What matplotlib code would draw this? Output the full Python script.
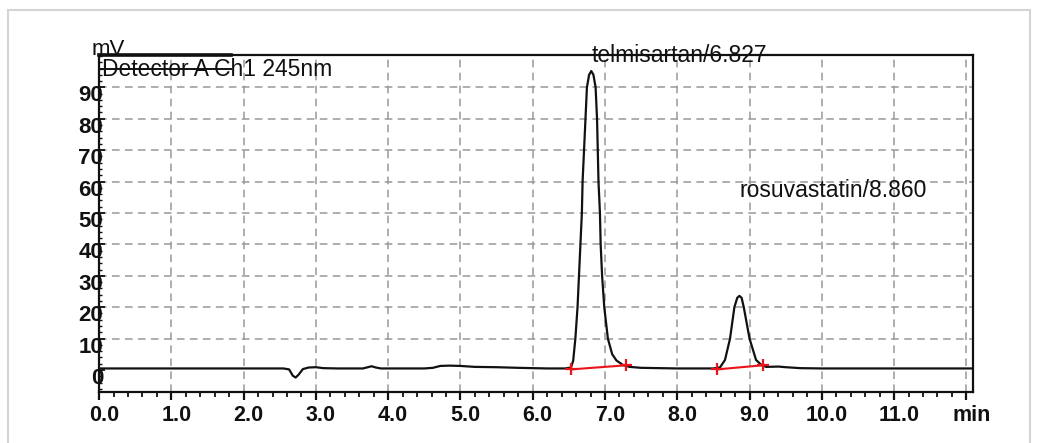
import matplotlib
matplotlib.use("Agg")
import matplotlib.pyplot as plt
import matplotlib.transforms as mtransforms
from matplotlib.patches import Rectangle
from matplotlib.ticker import MultipleLocator

plt.rcParams['font.family'] = ['Liberation Sans', 'DejaVu Sans']

# --- Chromatogram trace (time in min, signal in mV) ---
time_min = [0.0, 1.0, 2.0, 2.55, 2.63, 2.68, 2.72, 2.76, 2.82, 2.9, 3.0, 3.1,
            3.3, 3.65, 3.72, 3.77, 3.83, 3.9, 4.5, 4.62, 4.72, 4.85, 5.0,
            5.2, 5.5, 5.8, 6.2, 6.45, 6.53, 6.56, 6.59, 6.62, 6.64, 6.66,
            6.68, 6.69, 6.71, 6.73, 6.75, 6.78, 6.81, 6.84, 6.87, 6.89,
            6.90, 6.91, 6.93, 6.94, 6.96, 6.99, 7.04, 7.10, 7.16, 7.25,
            7.34, 7.5, 8.0, 8.5, 8.59, 8.66, 8.73, 8.79, 8.83, 8.86, 8.89,
            8.92, 9.00, 9.09, 9.17, 9.23, 9.4, 9.5, 9.7, 10.0, 12.09]
signal_mv = [0.5, 0.5, 0.5, 0.5, 0.2, -1.8, -2.4, -1.5, 0.3, 0.8, 0.9, 0.6,
             0.5, 0.5, 0.9, 1.2, 0.8, 0.5, 0.5, 0.7, 1.3, 1.4, 1.3,
             1.0, 0.9, 0.7, 0.5, 0.5, 0.8, 3.0, 10, 20, 30, 40,
             50, 60, 70, 80, 90, 94, 95.2, 94, 90, 80,
             70, 60, 50, 40, 30, 20, 10, 5, 3, 1.6,
             1.0, 0.7, 0.5, 0.5, 0.8, 3.2, 10, 20, 23, 23.6, 23,
             20, 10, 3.2, 1.5, 1.0, 1.1, 0.9, 0.6, 0.5, 0.5]

# integration baselines (start, end) per peak
peak_names = ['telmisartan/6.827', 'rosuvastatin/8.860']
base_t = [[6.53, 7.29], [8.55, 9.18]]
base_mv = [[0.2, 1.5], [0.2, 1.5]]
label_pos = [(6.81, 100.3), (8.86, 57.3)]

x_ticks = [0.0, 1.0, 2.0, 3.0, 4.0, 5.0, 6.0, 7.0, 8.0, 9.0, 10.0, 11.0, 12.0]
x_labels = ['0.0', '1.0', '2.0', '3.0', '4.0', '5.0', '6.0', '7.0', '8.0',
            '9.0', '10.0', '11.0', 'min']
y_ticks = [0, 10, 20, 30, 40, 50, 60, 70, 80, 90]

fig = plt.figure(figsize=(10.46, 4.43), dpi=100)
ax = fig.add_axes([0.0947, 0.1151, 0.8354, 0.7607])

# light frame round the whole picture
fig.patches.append(Rectangle((8 / 1046, -0.05), 1022 / 1046, 1.05 - 10 / 443,
                             transform=fig.transFigure, fill=False,
                             edgecolor='#d4d4d4', linewidth=1.5))

ax.set_xlim(0, 12.09)
ax.set_ylim(-7.0, 100.3)

# dashed grid
for xv in x_ticks[1:]:
    ax.axvline(xv, color='#999999', lw=1.1, ls=(0, (5, 3.5)), zorder=1)
for yv in y_ticks[1:]:
    ax.axhline(yv, color='#999999', lw=1.1, ls=(0, (5, 3.5)), zorder=1)

ax.plot(time_min, signal_mv, color='#111111', lw=1.6, zorder=3)

for bt, bm in zip(base_t, base_mv):
    ax.plot(bt, bm, color='#e8141a', lw=1.5, zorder=4)
    ax.plot(bt, bm, ls='none', marker='+', ms=9, mew=1.6, color='#e8141a',
            zorder=4)

for name, (tx, ty) in zip(peak_names, label_pos):
    ax.text(tx, ty, name, fontsize=16.5, ha='left', va='center',
            color='#111111', zorder=5, clip_on=False)

# detector legend, struck through as in the original printout
ax.text(0.04, 95.6, 'Detector A Ch1 245nm', fontsize=16.5, ha='left',
        va='center', color='#111111', zorder=5)
ax.plot([0, 1.83], [95.9, 95.9], color='#111111', lw=1.4, zorder=6)
ax.plot([0, 1.83], [100.3, 100.3], color='#111111', lw=2.6, zorder=6,
        clip_on=False)
ax.text(-0.1, 102.0, 'mV', fontsize=16, ha='left', va='center',
        color='#111111', zorder=6, clip_on=False)

ax.set_xticks(x_ticks)
ax.set_xticklabels(x_labels, fontsize=15.5, fontweight='bold')
ax.xaxis.set_minor_locator(MultipleLocator(0.2))
ax.tick_params(axis='x', which='major', direction='out', length=6, width=1.6,
               pad=3, colors='#111111')
ax.tick_params(axis='x', which='minor', direction='out', length=3.5,
               width=1.3, colors='#111111')

ax.set_yticks(y_ticks)
ax.set_yticklabels([str(v) for v in y_ticks], fontsize=16, fontweight='bold')
ax.yaxis.set_minor_locator(MultipleLocator(2))
ax.tick_params(axis='y', which='major', direction='in', length=4, width=1.3,
               pad=-3, colors='#111111')
ax.tick_params(axis='y', which='minor', direction='in', length=2.5,
               width=1.0, colors='#111111')

shift_x = mtransforms.ScaledTranslation(5 / 100, 0, fig.dpi_scale_trans)
for lab in ax.get_xticklabels():
    lab.set_transform(lab.get_transform() + shift_x)
shift_y = mtransforms.ScaledTranslation(0, -6 / 100, fig.dpi_scale_trans)
for lab in ax.get_yticklabels():
    lab.set_transform(lab.get_transform() + shift_y)

for sp in ax.spines.values():
    sp.set_linewidth(1.6)
    sp.set_color('#111111')

fig.savefig('out.png', dpi=100)
